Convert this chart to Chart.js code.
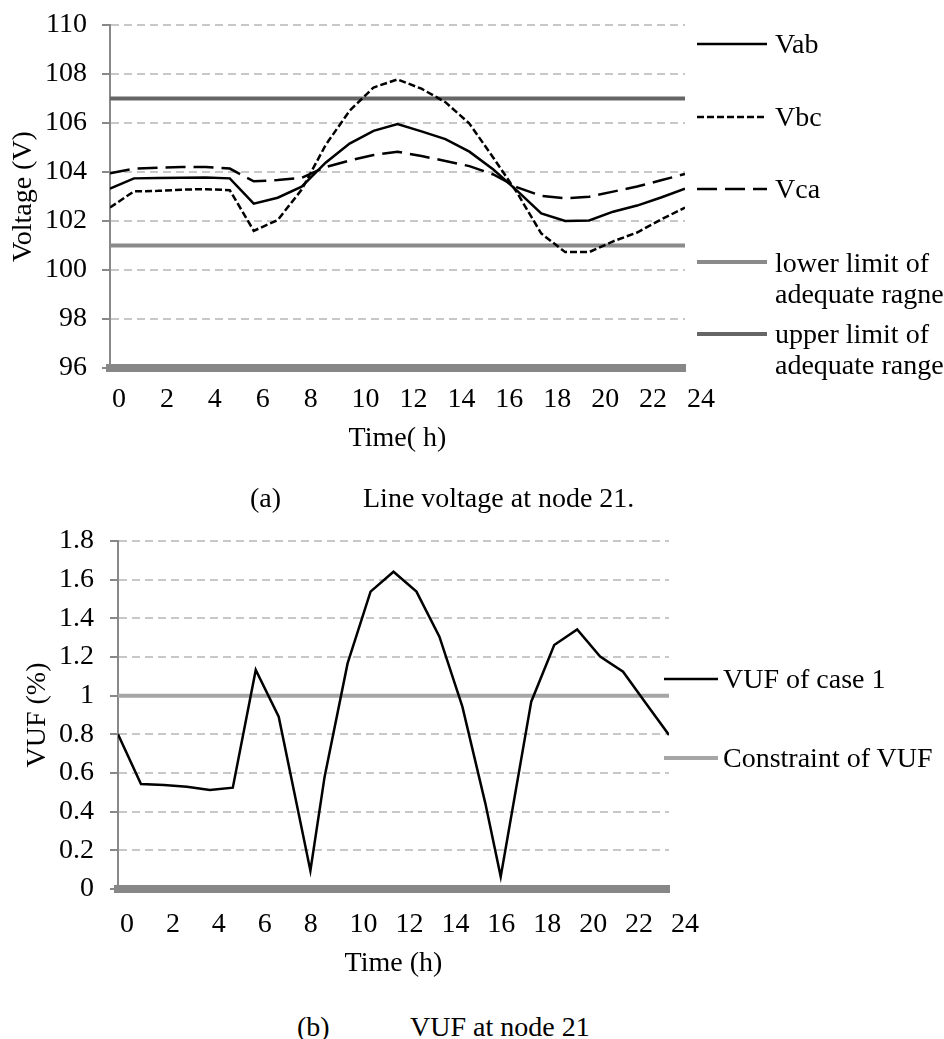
<!DOCTYPE html>
<html>
<head>
<meta charset="utf-8">
<script src="https://cdn.jsdelivr.net/npm/chart.js@4.4.0/dist/chart.umd.min.js"></script>
<style>
  body { margin: 0; background: #fff; }
  #page { position: relative; width: 944px; height: 1039px; font-family: 'Liberation Serif', 'Times New Roman', serif; font-size: 28px; color: #000; }
  canvas { position: absolute; left: 0; }
  .txt { position: absolute; line-height: 31px; white-space: nowrap; }
  .sw { position: absolute; overflow: visible; }
</style>
</head>
<body>
<div id="page">
  <canvas id="voltageChart" width="720" height="460" style="top:0"></canvas>
  <canvas id="vufChart" width="720" height="485" style="top:500px"></canvas>

  <!-- legend (a) -->
  <svg class="sw" style="left:697px; top:40px" width="70" height="8"><line x1="0" y1="4" x2="70" y2="4" stroke="#000" stroke-width="2.5"/></svg>
  <div class="txt" style="left:775px; top:28px">Vab</div>
  <svg class="sw" style="left:697px; top:113px" width="70" height="8"><line x1="0" y1="4" x2="70" y2="4" stroke="#000" stroke-width="2.5" stroke-dasharray="7 3"/></svg>
  <div class="txt" style="left:775px; top:101px">Vbc</div>
  <svg class="sw" style="left:697px; top:185px" width="70" height="8"><line x1="0" y1="4" x2="70" y2="4" stroke="#000" stroke-width="2.5" stroke-dasharray="20 8"/></svg>
  <div class="txt" style="left:775px; top:173px">Vca</div>
  <svg class="sw" style="left:697px; top:258px" width="70" height="8"><line x1="0" y1="4" x2="70" y2="4" stroke="#8a8a8a" stroke-width="4"/></svg>
  <div class="txt" style="left:775px; top:247px">lower limit of<br>adequate ragne</div>
  <svg class="sw" style="left:697px; top:330px" width="70" height="8"><line x1="0" y1="4" x2="70" y2="4" stroke="#666" stroke-width="4"/></svg>
  <div class="txt" style="left:775px; top:318px">upper limit of<br>adequate range</div>

  <div class="txt" style="left:250px; top:482px">(a)</div>
  <div class="txt" style="left:363px; top:482px">Line voltage at node 21.</div>

  <!-- legend (b) -->
  <svg class="sw" style="left:664px; top:675px" width="54" height="8"><line x1="0" y1="4" x2="54" y2="4" stroke="#000" stroke-width="2.5"/></svg>
  <div class="txt" style="left:723px; top:663px">VUF of case 1</div>
  <svg class="sw" style="left:664px; top:754px" width="54" height="8"><line x1="0" y1="4" x2="54" y2="4" stroke="#a6a6a6" stroke-width="4"/></svg>
  <div class="txt" style="left:723px; top:742px">Constraint of VUF</div>

  <div class="txt" style="left:297px; top:1011px">(b)</div>
  <div class="txt" style="left:410px; top:1011px">VUF at node 21</div>
</div>

<script>
// (a) line voltage at node 21, hourly
const hours = [0, 1, 2, 3, 4, 5, 6, 7, 8, 9, 10, 11, 12, 13, 14, 15, 16, 17, 18, 19, 20, 21, 22, 23, 24];
const vab = [103.32, 103.74, 103.76, 103.77, 103.78, 103.74, 102.71, 102.95, 103.40, 104.38, 105.16, 105.68, 105.96,
             105.66, 105.34, 104.83, 104.10, 103.23, 102.31, 102.00, 102.02, 102.38, 102.63, 102.96, 103.32];
const vbc = [102.55, 103.21, 103.23, 103.28, 103.30, 103.26, 101.60, 102.04, 103.28, 105.10, 106.50, 107.45, 107.78,
             107.40, 106.85, 105.98, 104.58, 103.14, 101.49, 100.73, 100.73, 101.17, 101.53, 102.06, 102.55];
const vca = [103.95, 104.14, 104.17, 104.20, 104.20, 104.14, 103.62, 103.67, 103.76, 104.20, 104.47, 104.69, 104.83,
             104.65, 104.45, 104.24, 103.90, 103.37, 103.03, 102.93, 102.99, 103.20, 103.41, 103.66, 103.92];
const lowerLimit = 101;
const upperLimit = 107;

// (b) VUF at node 21
const vufHours = [0, 1, 2, 3, 4, 5, 6, 7, 8, 8.38, 9, 10, 11, 12, 13, 14, 15, 16, 16.67, 17, 18, 19, 20, 21, 22, 23, 24];
const vuf = [0.80, 0.543, 0.538, 0.529, 0.512, 0.524, 1.133, 0.891, 0.314, 0.095, 0.581, 1.167, 1.538, 1.641,
             1.538, 1.305, 0.943, 0.443, 0.064, 0.288, 0.969, 1.262, 1.343, 1.202, 1.124, 0.96, 0.797];
const vufLimit = 1;

const xTicks = { min: 0, max: 24, step: 2 };

Chart.defaults.font.family = "'Liberation Serif', 'Times New Roman', serif";
Chart.defaults.font.size = 28;
Chart.defaults.color = '#000';

const pts = (xs, ys) => xs.map((x, i) => ({ x: x, y: ys[i] }));
const flat = (xs, v) => xs.map(x => ({ x: x, y: v }));

function lineSet(label, data, color, width, dash) {
  return {
    label: label,
    data: data,
    borderColor: color,
    borderWidth: width,
    borderDash: dash || [],
    pointRadius: 0,
    tension: 0,
    fill: false
  };
}

function axes(opts) {
  return {
    x: {
      type: 'linear',
      min: xTicks.min,
      max: xTicks.max,
      grid: { display: false },
      border: { color: '#878787', width: 8 },
      ticks: { stepSize: xTicks.step, align: 'start', labelOffset: 2, padding: opts.xPad, maxRotation: 0, autoSkip: false },
      title: { display: true, text: opts.xTitle, padding: { top: 0, bottom: 5 } },
      afterFit: s => { s.height = opts.xHeight; }
    },
    y: {
      min: opts.yMin,
      max: opts.yMax,
      ticks: {
        stepSize: opts.yStep,
        padding: opts.yPad,
        callback: v => String(Number(v.toFixed(1)))
      },
      grid: { color: '#c8c8c8', lineWidth: 2, tickLength: 8, tickColor: '#888', tickWidth: 2, tickBorderDash: [] },
      border: { color: '#888', width: 2, dash: [8, 5] },
      title: { display: true, text: opts.yTitle, padding: { top: opts.yTitlePad, bottom: 0 } },
      afterFit: s => {
        s.width = opts.yWidth;
        // keep the plot top set by layout padding only
        s.paddingTop = 0;
        s.paddingBottom = 0;
      }
    }
  };
}

new Chart(document.getElementById('voltageChart'), {
  type: 'line',
  data: {
    datasets: [
      lineSet('Vab', pts(hours, vab), '#000', 2.5),
      lineSet('Vbc', pts(hours, vbc), '#000', 2.5, [7, 3]),
      lineSet('Vca', pts(hours, vca), '#000', 2.5, [20, 8]),
      lineSet('lower limit of adequate ragne', flat(hours, lowerLimit), '#8a8a8a', 4),
      lineSet('upper limit of adequate range', flat(hours, upperLimit), '#666', 4)
    ]
  },
  options: {
    responsive: false,
    animation: false,
    layout: { padding: { top: 25, right: 34, left: 0, bottom: 0 } },
    plugins: { legend: { display: false }, tooltip: { enabled: false } },
    scales: axes({
      xTitle: 'Time( h)', xPad: 7, xHeight: 92,
      yTitle: 'Voltage (V)', yMin: 96, yMax: 110, yStep: 2, yPad: 15, yWidth: 110, yTitlePad: 7
    })
  }
});

new Chart(document.getElementById('vufChart'), {
  type: 'line',
  data: {
    datasets: [
      lineSet('VUF of case 1', pts(vufHours, vuf), '#000', 2.5),
      lineSet('Constraint of VUF', flat(hours, vufLimit), '#a6a6a6', 4)
    ]
  },
  options: {
    responsive: false,
    animation: false,
    layout: { padding: { top: 41, right: 51, left: 0, bottom: 0 } },
    plugins: { legend: { display: false }, tooltip: { enabled: false } },
    scales: axes({
      xTitle: 'Time (h)', xPad: 11, xHeight: 96,
      yTitle: 'VUF (%)', yMin: 0, yMax: 1.8, yStep: 0.2, yPad: 16, yWidth: 118, yTitlePad: 21
    })
  }
});
</script>
</body>
</html>
